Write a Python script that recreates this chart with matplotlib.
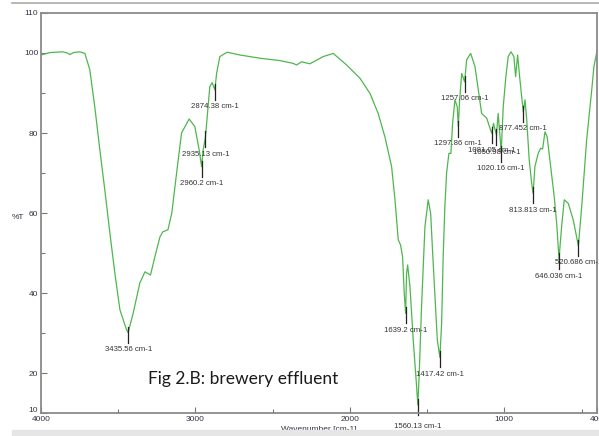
import numpy as np
import matplotlib
matplotlib.use("Agg")
import matplotlib.pyplot as plt
from matplotlib.lines import Line2D
from matplotlib.patches import Rectangle
from matplotlib.transforms import ScaledTranslation

# ---- spectrum data (wavenumber cm-1, %T) ----
wavenumber = [4000, 3943, 3900, 3859, 3830, 3813, 3790, 3749, 3716, 3684, 3652, 3619, 3587,
              3554, 3522, 3489, 3446, 3435.56, 3403, 3360, 3327, 3291, 3263, 3230, 3211,
              3178, 3153, 3122, 3090, 3041, 3004, 2976, 2960.2, 2950, 2935.13, 2922, 2907,
              2892, 2874.38, 2863, 2842, 2795, 2712, 2583, 2453, 2367, 2345, 2313, 2259,
              2173, 2108, 2021, 1935, 1870, 1817, 1773, 1730, 1708, 1687, 1672, 1659,
              1648, 1639.2, 1633, 1626, 1611, 1590, 1568, 1560.13, 1551, 1536, 1514,
              1493, 1477, 1464, 1449, 1434, 1417.42, 1406, 1396, 1385, 1374, 1359, 1346,
              1335, 1320, 1305, 1297.86, 1290, 1276, 1257.06, 1244, 1218, 1190, 1169,
              1147, 1114, 1093, 1081.05, 1070, 1050.98, 1040, 1020.16, 1007, 990, 975,
              957, 938, 927, 914, 899, 877.452, 866, 855, 839, 823, 813.813, 802, 781,
              765, 752, 737, 723, 700, 677, 661, 646.036, 629, 612, 586, 554, 520.686,
              499, 467, 434, 420, 400]
transmittance = [99.5, 100.1, 100.2, 100.3, 100.0, 99.6, 100.1, 100.3, 99.9, 95.8, 86.6, 75.8, 65.8,
                 55.0, 45.0, 35.8, 30.8, 30.1, 35.0, 42.5, 45.3, 44.5, 49.0, 54.0, 55.3,
                 55.8, 60.0, 70.0, 80.0, 83.5, 81.6, 75.8, 71.6, 75.8, 79.0, 85.0, 91.6,
                 92.6, 90.8, 94.9, 99.1, 100.2, 99.5, 98.7, 98.1, 97.4, 97.0, 97.8, 97.3,
                 99.1, 99.9, 97.0, 93.7, 89.9, 84.9, 79.0, 71.6, 63.3, 53.3, 52.0, 49.1,
                 39.9, 34.9, 44.9, 47.0, 41.6, 28.3, 16.6, 12.0, 19.9, 36.6, 56.6,
                 63.3, 59.9, 49.9, 39.1, 28.3, 23.9, 32.4, 49.1, 61.6, 69.9, 74.9, 74.9,
                 82.4, 88.3, 86.6, 81.6, 88.0, 94.9, 92.8, 98.3, 99.9, 96.6, 90.8,
                 84.9, 83.7, 81.2, 79.9, 82.4, 79.5, 84.9, 75.3, 86.6, 94.1, 99.1,
                 100.3, 99.1, 94.1, 99.5, 93.3, 85.3, 88.3, 83.3, 73.3, 67.4, 64.9, 71.6, 74.9,
                 76.2, 76.0, 80.3, 79.1, 71.6, 64.1, 57.4, 48.5, 56.6, 63.3, 62.4, 58.3, 51.8,
                 61.6, 78.3, 90.8, 96.6, 100.5]

# ---- peak labels ----
peak_wavenumbers = [3435.56, 2960.2, 2935.13, 2874.38, 1639.2, 1560.13, 1417.42, 1297.86,
                    1257.06, 1081.05, 1050.98, 1020.16, 877.452, 813.813, 646.036, 520.686]
peak_labels = ["3435.56 cm-1", "2960.2 cm-1", "2935.13 cm-1", "2874.38 cm-1", "1639.2 cm-1",
               "1560.13 cm-1", "1417.42 cm-1", "1297.86 cm-1", "1257.06 cm-1",
               "1081.05 cm-1", "1050.98 cm-1", "1020.16 cm-1", "877.452 cm-1",
               "813.813 cm-1", "646.036 cm-1", "520.686 cm-1"]

x_major = [4000, 3000, 2000, 1000, 400]
x_minor = [3500, 2500, 1500, 500]
y_major = [10, 20, 40, 60, 80, 100, 110]
y_minor = [30, 50, 70, 90]

W, H, DPI = 599, 436, 100
fig = plt.figure(figsize=(W / DPI, H / DPI), dpi=DPI)
plt.rcParams['font.family'] = ['Liberation Sans', 'DejaVu Sans']
ax = fig.add_axes([41 / W, 1 - 413 / H, (597 - 41) / W, (413 - 13) / H])

ax.plot(wavenumber, transmittance, color='#4fb64f', lw=0.9)
ax.set_xlim(4000, 400)
ax.set_ylim(10, 110)

ax.set_xticks(x_major)
ax.set_xticks(x_minor, minor=True)
ax.set_yticks(y_major)
ax.set_yticks(y_minor, minor=True)
ax.tick_params(which='both', direction='in', color='#777777', labelsize=6,
               labelcolor='#333344', width=0.8)
ax.tick_params(which='major', length=4, pad=2)
ax.tick_params(which='minor', length=3)
for s in ax.spines.values():
    s.set_color('#8a8a8a')
    s.set_linewidth(1.3)

# lift the bottom y label a little, as in the reference
ylabs = ax.get_yticklabels()
ylabs[0].set_transform(ylabs[0].get_transform() + ScaledTranslation(0, 4 / DPI, fig.dpi_scale_trans))

ax.set_xlabel('Wavenumber [cm-1]', fontsize=6, color='#333344', labelpad=2)
fig.text(18 / W, 1 - 217 / H, '%T', fontsize=6, color='#333344', ha='center', va='center')

# peak markers and labels
for w, lab in zip(peak_wavenumbers, peak_labels):
    t = float(np.interp(w, wavenumber[::-1], transmittance[::-1]))
    ax.plot([w, w], [t + 1.5, t - 2.5], color='#222222', lw=0.9, clip_on=False)
    off = 17
    if lab.startswith('1560'):
        off = 21
    ax.annotate(lab, (w, t), xytext=(0, -off * 72 / DPI), textcoords='offset points',
                ha='center', va='center', fontsize=5.6, color='#333333',
                annotation_clip=False)

fig.text(148 / W, 1 - 379 / H, 'Fig 2.B: brewery effluent', fontsize=12.5,
         family=['Lato', 'DejaVu Sans'], color='#1a1a1a', ha='left', va='center')

# frame decorations
fig.add_artist(Line2D([12 / W, 1], [1 - 3.5 / H, 1 - 3.5 / H], color='#aaaaaa', lw=1.2,
                      transform=fig.transFigure))
fig.add_artist(Rectangle((12 / W, 0), 1, 6 / H, color='#e6e6e6', transform=fig.transFigure))

fig.savefig('out.png', dpi=DPI)
